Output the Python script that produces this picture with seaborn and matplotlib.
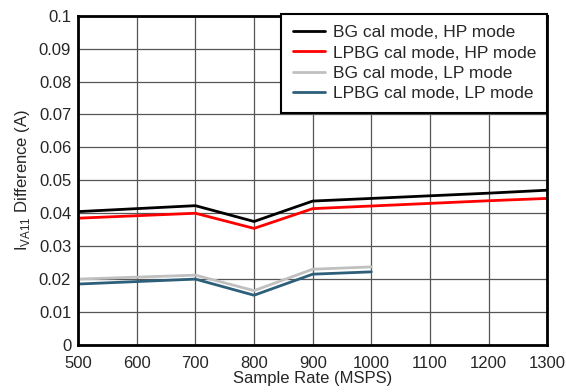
import numpy as np
import pandas as pd
import matplotlib
matplotlib.use("Agg")
import matplotlib.pyplot as plt
import seaborn as sns

rate_hp = [500, 700, 800, 900, 1000, 1100, 1200, 1300]
bg_hp = [0.0405, 0.0423, 0.0375, 0.0437, 0.0445, 0.0453, 0.0461, 0.0470]
lpbg_hp = [0.0385, 0.0400, 0.0354, 0.0414, 0.0422, 0.0430, 0.0438, 0.0445]
rate_lp = [500, 700, 800, 900, 1000]
bg_lp = [0.0200, 0.0212, 0.0165, 0.0230, 0.0237]
lpbg_lp = [0.0185, 0.0200, 0.0151, 0.0215, 0.0222]

labels = ["BG cal mode, HP mode", "LPBG cal mode, HP mode",
          "BG cal mode, LP mode", "LPBG cal mode, LP mode"]
colors = ["#000000", "#ff0000", "#c0c0c0", "#2e5f7a"]

frames = []
for lab, x, y in zip(labels, [rate_hp, rate_hp, rate_lp, rate_lp],
                     [bg_hp, lpbg_hp, bg_lp, lpbg_lp]):
    frames.append(pd.DataFrame({"rate": x, "diff": y, "series": lab}))
df = pd.concat(frames, ignore_index=True)

sns.set_style("white")
plt.rcParams['font.family'] = ['Liberation Sans', 'DejaVu Sans']

fig, ax = plt.subplots(figsize=(5.66, 3.92), dpi=100)
sns.lineplot(data=df, x="rate", y="diff", hue="series", hue_order=labels,
             palette=colors, linewidth=2, ax=ax, sort=False)

ax.set_xlim(500, 1300)
ax.set_ylim(0, 0.1)
ax.set_xticks(np.arange(500, 1301, 100))
ax.set_yticks(np.arange(0, 0.1001, 0.01))
ax.set_yticklabels(["0"] + [f"{v:.2f}" for v in np.arange(0.01, 0.0901, 0.01)] + ["0.1"])
ax.grid(True, color="#555555", linewidth=0.9)
ax.tick_params(axis="both", labelsize=12, length=0)
ax.tick_params(axis="x", pad=8)
ax.tick_params(axis="y", pad=5)
for s in ax.spines.values():
    s.set_linewidth(2)
    s.set_color("black")
ax.set_xlabel("Sample Rate (MSPS)", fontsize=12, labelpad=0)
ax.set_ylabel("I$_{\\mathregular{VA11}}$ Difference (A)", fontsize=12, labelpad=5)

leg = ax.legend(loc="upper right", fontsize=12.5, frameon=True, fancybox=False,
                framealpha=1, edgecolor="black", borderpad=0.65,
                labelspacing=0.3, handlelength=1.85, handletextpad=0.45,
                borderaxespad=0, bbox_to_anchor=(1.0, 1.006))
leg.get_frame().set_linewidth(1.5)
leg.set_title(None)

fig.subplots_adjust(left=0.138, right=0.967, top=0.96, bottom=0.12)
fig.savefig("out.png", dpi=100)
